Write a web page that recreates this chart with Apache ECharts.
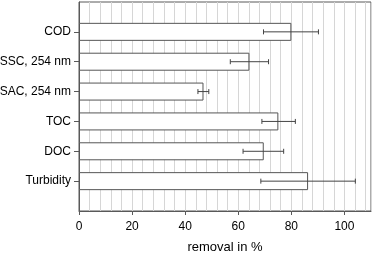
<!DOCTYPE html>
<html><head><meta charset="utf-8">
<script src="https://cdn.jsdelivr.net/npm/echarts@6/dist/echarts.min.js"></script>
<style>html,body{margin:0;padding:0;background:#fff}#c{width:373px;height:255px}</style>
</head><body><div id="c"></div>
<script>
// categories from bottom to top (empty slots as padding)
const categories = ['', 'Turbidity', 'DOC', 'TOC', 'SAC, 254 nm', 'SSC, 254 nm', 'COD', ''];
const removal = ['-', 86.3, 69.6, 75.1, 46.9, 64.2, 80.0, '-'];
const errLow  = [null, 68.5, 61.8, 68.9, 44.8, 57.0, 69.5, null];
const errHigh = [null, 104.1, 77.1, 81.5, 48.9, 71.4, 90.2, null];
const xTicks = [0, 20, 40, 60, 80, 100];

const errData = [];
categories.forEach((c, i) => { if (errLow[i] != null) errData.push([errLow[i], errHigh[i], i]); });

const chart = echarts.init(document.getElementById('c'), null, {renderer: 'canvas'});
const font = 'Liberation Sans, Arial, sans-serif';
chart.setOption({
  animation: false,
  backgroundColor: '#fff',
  grid: {left: 79, right: 2, top: 2, bottom: 44, show: true, borderColor: '#595959', borderWidth: 1,
         backgroundColor: 'transparent', containLabel: false, outerBoundsMode: 'none'},
  xAxis: [{
    type: 'value', min: 0, max: 110, interval: 20,
    name: 'removal in %', nameLocation: 'middle', nameGap: 30,
    nameTextStyle: {fontFamily: font, fontSize: 13, color: '#000'},
    axisLine: {show: true, lineStyle: {color: '#595959', width: 1}},
    axisTick: {show: true, customValues: xTicks, length: 4, lineStyle: {color: '#595959'}},
    axisLabel: {customValues: xTicks, fontFamily: font, fontSize: 12, color: '#000', margin: 10},
    splitLine: {show: false}, z: 3
  }, {
    type: 'value', min: 0, max: 110, interval: 4, position: 'bottom',
    axisLine: {show: false}, axisTick: {show: false}, axisLabel: {show: false},
    splitLine: {show: true, lineStyle: {color: '#d6d6d6', width: 1}}, z: 0
  }],
  yAxis: {
    type: 'category', data: categories, boundaryGap: false,
    axisLine: {show: true, lineStyle: {color: '#595959', width: 1}},
    axisTick: {show: true, length: 5, interval: (i, v) => v !== '', lineStyle: {color: '#595959'}},
    axisLabel: {fontFamily: font, fontSize: 12, color: '#000', margin: 8, interval: 0},
    splitLine: {show: false}
  },
  series: [
    {
      type: 'bar', data: removal, barWidth: 18, xAxisIndex: 0,
      itemStyle: {color: '#fff', borderColor: '#555', borderWidth: 1}
    },
    {
      type: 'custom', data: errData, encode: {x: [0, 1], y: 2}, z: 5, xAxisIndex: 0,
      renderItem: function (params, api) {
        const lo = api.coord([api.value(0), api.value(2)]);
        const hi = api.coord([api.value(1), api.value(2)]);
        const h = 2.5;
        const st = {stroke: '#444', lineWidth: 1};
        return {type: 'group', children: [
          {type: 'line', shape: {x1: lo[0], y1: lo[1], x2: hi[0], y2: hi[1]}, style: st},
          {type: 'line', shape: {x1: lo[0], y1: lo[1] - h, x2: lo[0], y2: lo[1] + h}, style: st},
          {type: 'line', shape: {x1: hi[0], y1: hi[1] - h, x2: hi[0], y2: hi[1] + h}, style: st}
        ]};
      }
    }
  ]
});
</script></body></html>
